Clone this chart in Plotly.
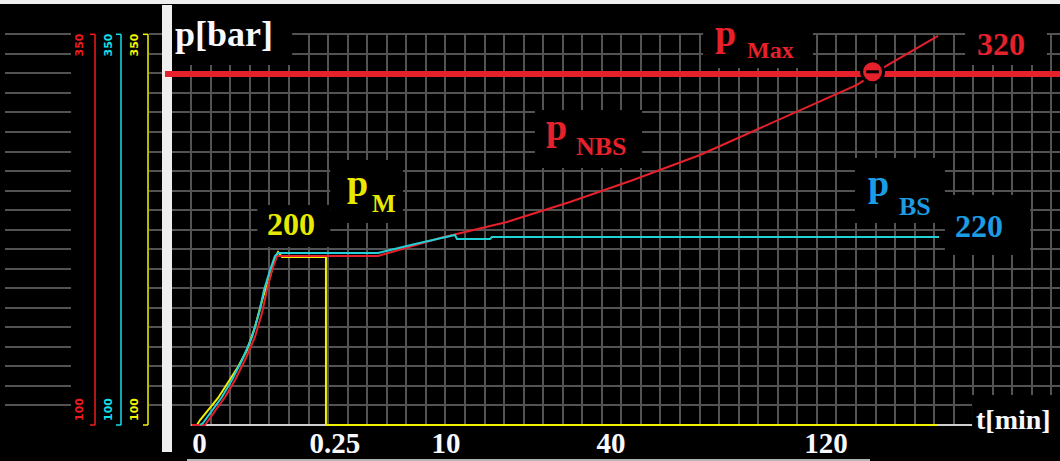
import plotly.graph_objects as go

# ---------------- data ----------------
# x: position on the schematic (non-linear) time scale, 1 unit = 1 grid cell
# y: pressure in bar
NBS_X = [1.04, 1.70, 2.73, 3.24, 3.75, 4.26, 4.62, 4.87, 5.13, 5.39, 5.54, 10.55,
         13.72, 17.15, 20.37, 23.60, 27.02, 31.27, 35.05, 36.64, 39.20]
NBS_P = [100, 100, 117.9, 128.8, 141.6, 156.3, 171.7, 186.4, 199.2, 208.1, 208.1, 208.1,
         219.7, 229.9, 242.7, 256.8, 272.8, 296.5, 317.6, 330.4, 349.0]

BS_X = [1.45, 1.60, 2.57, 3.08, 3.60, 4.11, 4.47, 4.72, 5.03, 5.28, 5.44, 10.55,
        12.45, 14.49, 14.59, 16.28, 16.38, 39.25]
BS_P = [100, 101.3, 117.9, 128.8, 141.6, 156.3, 171.7, 186.4, 199.2, 208.1, 210.1, 210.1,
        215.8, 221.6, 219.0, 219.0, 220.3, 220.3]

M_X = [1.29, 1.45, 2.37, 2.88, 3.39, 3.85, 4.26, 4.67, 5.03, 5.28, 5.44, 5.64, 7.89, 7.89, 39.20]
M_P = [100, 103.2, 117.3, 126.9, 137.1, 148.0, 162.7, 181.9, 194.7, 206.9, 210.7, 207.5, 207.5, 100, 100]

P_MAX = 324.6
CROSS_X, CROSS_P = 35.85, 326.0

TICK_POS = [1.42, 8.35, 14.03, 22.47, 33.47]
TICK_TEXT = ["0", "0.25", "10", "40", "120"]

SCALE_LOW, SCALE_HIGH = 100, 350
GRID_DP = 12.5
BASELINE_X = [1.0, 40.94]

# label background boxes (x0, x1, y0, y1) in axis units
BOXES = [
    (-0.5, 6.16, 330.4, 352),    # p[bar]
    (27.18, 32.80, 328.4, 352),  # p Max
    (40.58, 44.77, 330.4, 352),  # 320
    (18.58, 24.06, 264.5, 301.6),  # p NBS
    (8.11, 11.83, 229.3, 269.6),   # p M
    (4.38, 8.11, 213.9, 240.8),    # 200
    (34.95, 39.55, 229.3, 270.9),  # p BS
    (39.55, 43.91, 208.8, 247.2),  # 220
    (40.94, 46.0, 98, 119.2),      # t[min]
]

# ---------------- style ----------------
RED = "#e6212b"
YELLOW = "#f2f200"
YELLOW_TXT = "#e8e800"
CYAN = "#22d0d6"
BLUE_TXT = "#1c9ce3"
WHITE = "#f8f8ff"
GRID = "#535353"
FONT = "Liberation Serif"

W, H = 1060, 461
MT, MB = 33, 35
PH = H - MT - MB
X_RANGE = [0.015, 45.437]
Y_RANGE = [99.36, 350.83]


def pxx(px):
    return px / W


def pxy(py):
    return (H - MB - py) / PH


def l2(px):  # left-zone axis units (0..1 across the zone)
    return (px - 5) / 157


fig = go.Figure()

# dummy traces to create the side subplot and the label axis
fig.add_trace(go.Scatter(x=[0, 1], y=[SCALE_LOW, SCALE_LOW], xaxis="x2", yaxis="y",
                         mode="lines", opacity=0, hoverinfo="skip", showlegend=False))
fig.add_trace(go.Scatter(x=[TICK_POS[0]], y=[SCALE_LOW], xaxis="x3", yaxis="y",
                         mode="markers", marker=dict(opacity=0), hoverinfo="skip", showlegend=False))

fig.add_trace(go.Scatter(x=M_X, y=M_P, mode="lines", line=dict(color=YELLOW, width=2),
                         showlegend=False))
fig.add_trace(go.Scatter(x=NBS_X, y=NBS_P, mode="lines", line=dict(color=RED, width=2),
                         showlegend=False))
fig.add_trace(go.Scatter(x=BS_X, y=BS_P, mode="lines", line=dict(color=CYAN, width=2),
                         showlegend=False))
fig.add_trace(go.Scatter(x=[CROSS_X], y=[CROSS_P], mode="markers",
                         marker=dict(symbol="circle", size=22, color=RED,
                                     line=dict(color="black", width=3)),
                         showlegend=False))
fig.add_trace(go.Scatter(x=[CROSS_X], y=[CROSS_P], mode="markers",
                         marker=dict(symbol="line-ew", size=9,
                                     line=dict(color="black", width=3)),
                         showlegend=False))

shapes = []
for (x0, x1, y0, y1) in BOXES:
    shapes.append(dict(type="rect", xref="x", yref="y", x0=x0, x1=x1, y0=y0, y1=y1,
                       fillcolor="black", line=dict(width=0), layer="between"))
# left zone black block
shapes.append(dict(type="rect", xref="x2", yref="y", x0=l2(71), x1=l2(149),
                   y0=98, y1=352, fillcolor="black", line=dict(width=0), layer="between"))
# p max line
shapes.append(dict(type="line", xref="x", yref="y", x0=X_RANGE[0] - 1, x1=X_RANGE[1] + 1,
                   y0=P_MAX, y1=P_MAX, line=dict(color=RED, width=6), layer="between"))
# time axis line
shapes.append(dict(type="line", xref="x", yref="y", x0=BASELINE_X[0], x1=BASELINE_X[1],
                   y0=SCALE_LOW, y1=SCALE_LOW, line=dict(color="#cfcfcf", width=2),
                   layer="between"))
# left scale bars
for bx, col in [(95, "#f01c1c"), (121, "#14e0ea"), (148, "#f5f500")]:
    shapes.append(dict(type="line", xref="x2", yref="y", x0=l2(bx), x1=l2(bx),
                       y0=SCALE_LOW, y1=SCALE_HIGH, line=dict(color=col, width=1.5), layer="above"))
    for yy in (SCALE_LOW, SCALE_HIGH):
        shapes.append(dict(type="line", xref="x2", yref="y", x0=l2(bx - 5), x1=l2(bx),
                           y0=yy, y1=yy, line=dict(color=col, width=1.5), layer="above"))
# frame pieces
shapes.append(dict(type="rect", xref="paper", yref="paper", x0=0, x1=1, y0=pxy(4), y1=pxy(0),
                   fillcolor="#eeeeee", line=dict(width=0), layer="above"))
shapes.append(dict(type="rect", xref="paper", yref="paper", x0=pxx(162), x1=pxx(172),
                   y0=pxy(452), y1=pxy(5), fillcolor="#eeeeee", line=dict(width=0), layer="above"))
shapes.append(dict(type="line", xref="paper", yref="y", x0=pxx(165), x1=pxx(172),
                   y0=P_MAX, y1=P_MAX, line=dict(color=RED, width=6), layer="above"))
shapes.append(dict(type="rect", xref="paper", yref="paper", x0=pxx(187), x1=pxx(870),
                   y0=pxy(461), y1=pxy(459), fillcolor="#b4b4b4", line=dict(width=0), layer="above"))

annotations = []


def label(text, cx, cy, size, color, angle=0, family=FONT, weight="bold"):
    annotations.append(dict(text=text, xref="paper", yref="paper", x=pxx(cx), y=pxy(cy),
                            xanchor="center", yanchor="middle", showarrow=False,
                            textangle=angle,
                            font=dict(family=family, size=size, color=color, weight=weight)))


label("p[bar]", 224, 33.6, 36, WHITE)
label("p", 725, 33, 38, RED)
label("Max", 770, 50, 24, RED)
label("320", 1001, 44, 32, RED)
label("p", 556, 127, 38, RED)
label("NBS", 601, 146.5, 26, RED)
label("p", 357.5, 183, 38, YELLOW_TXT)
label("M", 384, 203.5, 25, YELLOW_TXT)
label("200", 291, 224, 32, YELLOW_TXT)
label("p", 878.5, 183.5, 38, BLUE_TXT)
label("BS", 914.5, 206.5, 26, BLUE_TXT)
label("220", 979, 226, 32, BLUE_TXT)
label("t[min]", 1013, 419.5, 28, WHITE)
for cx, col in [(79, "#f01c1c"), (108, "#14e0ea"), (134, "#f5f500")]:
    label(str(SCALE_HIGH), cx, 45.5, 11, col, angle=-90, family="DejaVu Sans", weight="bold")
    label(str(SCALE_LOW), cx, 410, 11, col, angle=-90, family="DejaVu Sans", weight="bold")

fig.update_layout(
    width=W, height=H,
    margin=dict(l=0, r=0, t=MT, b=MB, pad=0, autoexpand=False),
    paper_bgcolor="black", plot_bgcolor="black",
    showlegend=False,
    xaxis=dict(domain=[pxx(172), 1], range=X_RANGE, tick0=0, dtick=1, showgrid=True,
               gridcolor=GRID, gridwidth=2, showticklabels=False, zeroline=False,
               showline=False, ticks="", anchor="y", automargin=False),
    yaxis=dict(range=Y_RANGE, tick0=SCALE_LOW, dtick=GRID_DP, showgrid=True,
               gridcolor=GRID, gridwidth=2, showticklabels=False, zeroline=False,
               showline=False, ticks="", anchor="x", automargin=False),
    xaxis2=dict(domain=[pxx(5), pxx(162)], range=[0, 1], anchor="y", showgrid=False,
                showticklabels=False, zeroline=False, showline=False, ticks="",
                automargin=False),
    xaxis3=dict(overlaying="x", anchor="y", range=X_RANGE, tickmode="array",
                tickvals=TICK_POS, ticktext=TICK_TEXT, showgrid=False, zeroline=False,
                showline=False, ticks="", side="bottom", automargin=False,
                ticklabelstandoff=-3,
                tickfont=dict(family=FONT, size=29, color=WHITE, weight="bold")),
    shapes=shapes,
    annotations=annotations,
)

fig.write_html("out.html", config={"displayModeBar": False, "staticPlot": True},
               post_script="document.body.style.margin='0px';document.body.style.background='black';")
